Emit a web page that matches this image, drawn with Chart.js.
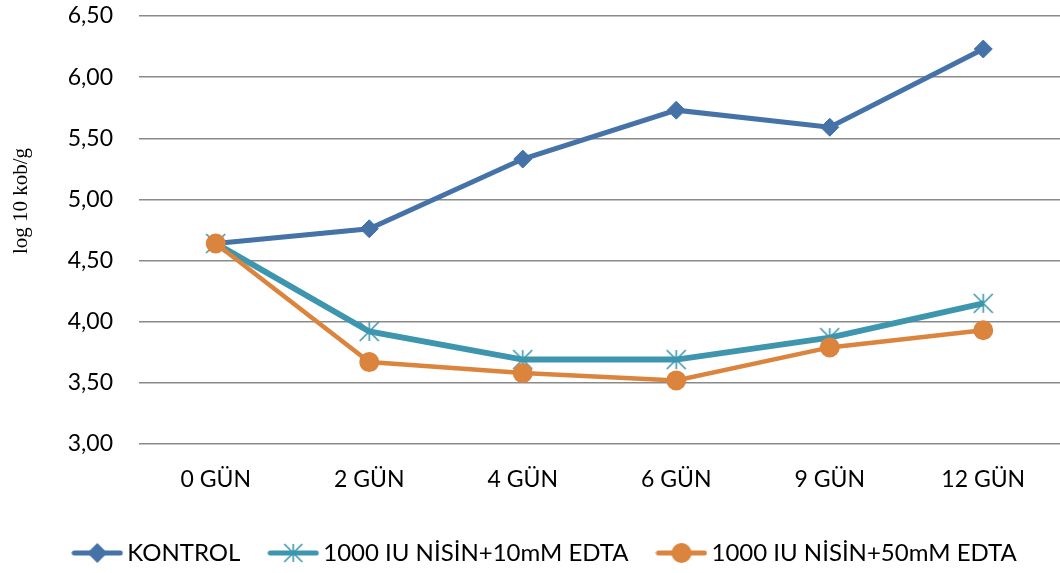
<!DOCTYPE html>
<html>
<head>
<meta charset="utf-8">
<script src="https://cdn.jsdelivr.net/npm/chart.js@4/dist/chart.umd.min.js"></script>
<style>
  html, body { margin: 0; padding: 0; background: #fff; }
  #wrap { width: 1060px; height: 573px; }
</style>
</head>
<body>
<div id="wrap"><canvas id="myChart" width="1060" height="573"></canvas></div>
<script>
const gunler = ["0 GÜN", "2 GÜN", "4 GÜN", "6 GÜN", "9 GÜN", "12 GÜN"];
const kontrol = [4.64, 4.76, 5.33, 5.73, 5.59, 6.23];
const nisin10 = [4.64, 3.92, 3.69, 3.69, 3.87, 4.15];
const nisin50 = [4.64, 3.67, 3.58, 3.52, 3.79, 3.93];
const seriesNames = ["KONTROL", "1000 IU NİSİN+10mM EDTA", "1000 IU NİSİN+50mM EDTA"];
const yTicks = [3.0, 3.5, 4.0, 4.5, 5.0, 5.5, 6.0, 6.5];
const yTitle = "log 10 kob/g";

const BLUE = "#4572A7";
const TEAL = "#3D96AE";
const ORANGE = "#DB843D";
const FONT = "Lato";

// excel style star marker: vertical bar plus an X
function starMarker(size, color) {
  const c = document.createElement("canvas");
  c.width = size; c.height = size;
  const g = c.getContext("2d");
  const m = size / 2, r = size / 2 - 1;
  g.strokeStyle = color;
  g.lineWidth = 1.6;
  g.beginPath();
  g.moveTo(m, m - r); g.lineTo(m, m + r);
  g.moveTo(m - r, m - r); g.lineTo(m + r, m + r);
  g.moveTo(m + r, m - r); g.lineTo(m - r, m + r);
  g.stroke();
  return c;
}

// legend swatch: line with the marker in the middle
function legendSwatch(color, kind) {
  const c = document.createElement("canvas");
  c.width = 52; c.height = 24;
  const g = c.getContext("2d");
  g.strokeStyle = color;
  g.fillStyle = color;
  g.lineWidth = 5;
  g.lineCap = "round";
  g.beginPath(); g.moveTo(3, 12); g.lineTo(49, 12); g.stroke();
  if (kind === "diamond") {
    g.beginPath();
    g.moveTo(26, 2); g.lineTo(36, 12); g.lineTo(26, 22); g.lineTo(16, 12);
    g.closePath(); g.fill();
  } else if (kind === "circle") {
    g.beginPath(); g.arc(26, 12, 10, 0, Math.PI * 2); g.fill();
  } else {
    g.drawImage(starMarker(20, color), 16, 2);
  }
  return c;
}

const swatches = [
  legendSwatch(BLUE, "diamond"),
  legendSwatch(TEAL, "star"),
  legendSwatch(ORANGE, "circle")
];

const yTitlePlugin = {
  id: "yTitle",
  afterDraw(chart) {
    const ctx = chart.ctx;
    ctx.save();
    ctx.translate(21, 201);
    ctx.rotate(-Math.PI / 2);
    ctx.font = "21px 'Liberation Serif'";
    ctx.fillStyle = "#000";
    ctx.textAlign = "center";
    ctx.textBaseline = "middle";
    ctx.fillText(yTitle, 0, 0);
    ctx.restore();
  }
};

const ctx = document.getElementById("myChart");
new Chart(ctx, {
  type: "line",
  data: {
    labels: gunler,
    datasets: [
      {
        label: seriesNames[0],
        data: kontrol,
        borderColor: BLUE,
        backgroundColor: BLUE,
        borderWidth: 5,
        pointStyle: "rectRot",
        pointRadius: 9,
        pointBorderWidth: 1,
        order: 3
      },
      {
        label: seriesNames[1],
        data: nisin10,
        borderColor: TEAL,
        backgroundColor: TEAL,
        borderWidth: 6,
        pointStyle: starMarker(21, TEAL),
        order: 2
      },
      {
        label: seriesNames[2],
        data: nisin50,
        borderColor: ORANGE,
        backgroundColor: ORANGE,
        borderWidth: 4.5,
        pointStyle: "circle",
        pointRadius: 9,
        pointBorderWidth: 2,
        order: 1
      }
    ]
  },
  options: {
    responsive: false,
    animation: false,
    layout: { autoPadding: false, padding: { top: 16, right: 0, bottom: -2, left: 36 } },
    plugins: {
      tooltip: { enabled: false },
      legend: {
        position: "bottom",
        labels: {
          usePointStyle: true,
          pointStyleWidth: 36,
          padding: 35,
          color: "#000",
          font: { family: FONT, size: 24 },
          generateLabels: (chart) =>
            chart.data.datasets.map((ds, i) => ({
              text: ds.label,
              pointStyle: swatches[i],
              fillStyle: ds.borderColor,
              strokeStyle: ds.borderColor,
              lineWidth: 0,
              hidden: false,
              datasetIndex: i
            }))
        }
      }
    },
    scales: {
      x: {
        offset: true,
        afterFit: (scale) => { scale.height = 62; },
        grid: { display: false },
        border: { display: false },
        ticks: {
          color: "#000",
          padding: 14,
          font: { family: FONT, size: 23 }
        }
      },
      y: {
        min: 3,
        max: 6.5,
        afterFit: (scale) => { scale.width = 103; },
        afterBuildTicks: (scale) => { scale.ticks = yTicks.map((v) => ({ value: v })); },
        grid: { color: "#8a8a8a", lineWidth: 1.5, drawTicks: true, tickLength: 26, tickColor: "rgba(0,0,0,0)" },
        border: { display: false },
        ticks: {
          color: "#000",
          padding: 0,
          font: { family: FONT, size: 23 },
          callback: (v) => Number(v).toFixed(2).replace(".", ",")
        }
      }
    }
  },
  plugins: [yTitlePlugin]
});
</script>
</body>
</html>
